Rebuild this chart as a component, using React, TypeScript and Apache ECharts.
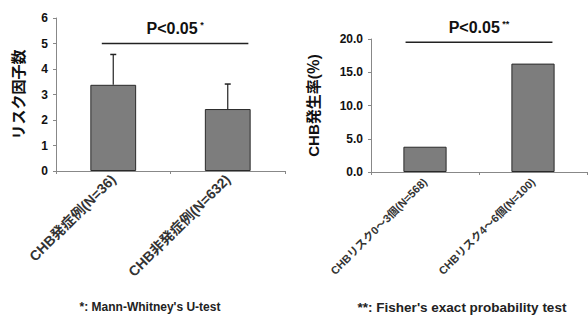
import React, { useEffect, useRef } from "react";
import * as echarts from "echarts";

const leftCategories = ["CHB発症例(N=36)", "CHB非発症例(N=632)"];
const leftMeans = [3.38, 2.43];
const leftUpper = [4.57, 3.41];
const leftTicks = [0, 6, 1];

const rightCategories = ["CHBリスク0～3個(N=568)", "CHBリスク4～6個(N=100)"];
const rightRates = [3.8, 16.3];
const rightTicks = [0, 20, 5];

const leftSig = { y: 5, label: "P<0.05", star: "*" };
const rightSig = { y: 19.5, label: "P<0.05", star: "**" };

const footLeft = "*: Mann-Whitney's U-test";
const footRight = "**: Fisher's exact probability test";

const FONT = "'Liberation Sans', 'Noto Sans CJK JP', sans-serif";

function sigSeries(gridIndex: number, sig: any, lf: number, rf: number) {
  return {
    type: "custom",
    xAxisIndex: gridIndex,
    yAxisIndex: gridIndex,
    clip: false,
    silent: true,
    data: [[0, sig.y]],
    renderItem: (params: any, api: any) => {
      const p0 = api.coord([0, sig.y]);
      const p1 = api.coord([1, sig.y]);
      const band = api.size([1, 0])[0];
      const x0 = p0[0] + lf * band;
      const x1 = p1[0] + rf * band;
      const mid = (x0 + x1) / 2;
      return {
        type: "group",
        children: [
          {
            type: "line",
            shape: { x1: x0, y1: p0[1], x2: x1, y2: p0[1] },
            style: { stroke: "#222", lineWidth: 1.5 },
          },
          {
            type: "text",
            x: mid,
            y: p0[1] - 15,
            style: {
              text: "{a|" + sig.label + "}{b| " + sig.star + "}",
              align: "center",
              verticalAlign: "middle",
              rich: {
                a: { fontSize: 16, fontWeight: "bold", fontFamily: FONT, fill: "#111" },
                b: { fontSize: 9, fontWeight: "bold", fontFamily: FONT, fill: "#111", verticalAlign: "top", padding: [0, 0, 7, 0] },
              },
            },
          },
        ],
      };
    },
  };
}

export default function App() {
  const ref = useRef<HTMLDivElement>(null);
  useEffect(() => {
    const chart = echarts.init(ref.current!, undefined, { renderer: "svg" });
    const axisLabelY = { fontSize: 12, fontWeight: "bold", color: "#111", fontFamily: FONT, margin: 8 };
    const axisLabelX = { fontSize: 14, fontWeight: "bold", color: "#333", fontFamily: FONT, rotate: 45, margin: 6, interval: 0 };
    const axisLine = { show: true, lineStyle: { color: "#888", width: 1 } };
    const tick = { show: true, length: 3, lineStyle: { color: "#888" } };
    const nameStyle = { fontSize: 15, fontWeight: "bold", color: "#111", fontFamily: FONT };
    const errorData = leftMeans.map((m, i) => [i, m, leftUpper[i]]);
    chart.setOption({
      animation: false,
      backgroundColor: "#fff",
      grid: [
        { left: 56, top: 18, width: 229, height: 153 },
        { left: 371, top: 39, width: 216, height: 133 },
      ],
      xAxis: [
        { type: "category", gridIndex: 0, data: leftCategories, axisLine, axisTick: tick, axisLabel: axisLabelX },
        { type: "category", gridIndex: 1, data: rightCategories, axisLine, axisTick: tick, axisLabel: { ...axisLabelX, fontSize: 11, margin: 8 } },
      ],
      yAxis: [
        {
          type: "value", gridIndex: 0, min: leftTicks[0], max: leftTicks[1], interval: leftTicks[2],
          axisLine, axisTick: tick, splitLine: { show: false }, axisLabel: axisLabelY,
          name: "リスク因子数", nameLocation: "middle", nameRotate: 90, nameGap: 30, nameTextStyle: nameStyle,
        },
        {
          type: "value", gridIndex: 1, min: rightTicks[0], max: rightTicks[1], interval: rightTicks[2],
          axisLine, axisTick: tick, splitLine: { show: false },
          axisLabel: { ...axisLabelY, formatter: (v: number) => v.toFixed(1) },
          name: "CHB発生率(％)", nameLocation: "middle", nameRotate: 90, nameGap: 50, nameTextStyle: nameStyle,
        },
      ],
      series: [
        {
          type: "bar", xAxisIndex: 0, yAxisIndex: 0, data: leftMeans, barWidth: "40%",
          itemStyle: { color: "#7d7d7d", borderColor: "#2a2a2a", borderWidth: 1 },
        },
        {
          type: "custom", xAxisIndex: 0, yAxisIndex: 0, data: errorData, z: 3,
          renderItem: (params: any, api: any) => {
            const top = api.coord([api.value(0), api.value(2)]);
            const base = api.coord([api.value(0), api.value(1)]);
            const half = 3;
            return {
              type: "group",
              children: [
                { type: "line", shape: { x1: top[0], y1: top[1], x2: base[0], y2: base[1] }, style: { stroke: "#222", lineWidth: 1.2 } },
                { type: "line", shape: { x1: top[0] - half, y1: top[1], x2: top[0] + half, y2: top[1] }, style: { stroke: "#222", lineWidth: 1.5 } },
              ],
            };
          },
        },
        {
          type: "bar", xAxisIndex: 1, yAxisIndex: 1, data: rightRates, barWidth: "40%",
          itemStyle: { color: "#7d7d7d", borderColor: "#2a2a2a", borderWidth: 1 },
        },
        sigSeries(0, leftSig, -0.1, 0.18),
        sigSeries(1, rightSig, -0.18, 0.18),
      ],
      graphic: [
        { type: "text", x: 150, y: 307, style: { text: footLeft, align: "center", verticalAlign: "middle", fontSize: 12, fontWeight: "bold", fontFamily: FONT, fill: "#222" } },
        { type: "text", x: 462, y: 307, style: { text: footRight, align: "center", verticalAlign: "middle", fontSize: 13.5, fontWeight: "bold", fontFamily: FONT, fill: "#222" } },
      ],
    });
    return () => chart.dispose();
  }, []);
  return <div ref={ref} style={{ width: 588, height: 327, position: "absolute", left: 0, top: 0 }} />;
}
